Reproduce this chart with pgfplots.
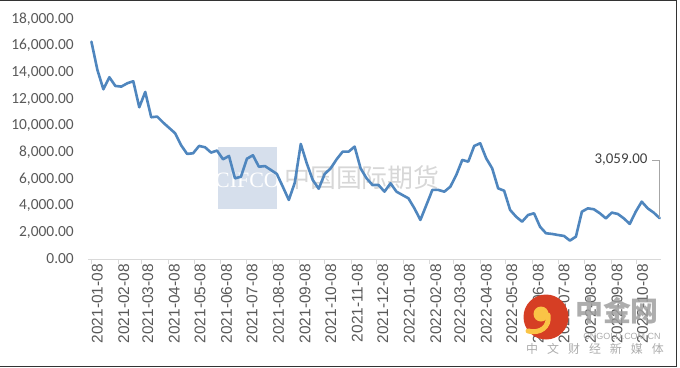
\documentclass[border=0pt]{standalone}
\usepackage{pgfplots}
\pgfplotsset{compat=1.18}
\usepackage{fontspec}
\setmainfont{Carlito}
\newfontfamily\arialf{Liberation Sans}
\newfontfamily\cjk{Noto Sans CJK SC}
\newfontfamily\serifw{Liberation Serif}
\definecolor{lineblue}{RGB}{79,134,190}
\definecolor{labgray}{RGB}{89,89,89}
\definecolor{axgray}{RGB}{217,217,217}
\definecolor{wmblue}{RGB}{214,223,236}
\definecolor{wmgray}{RGB}{215,215,215}
\definecolor{logored}{RGB}{214,62,36}
\definecolor{logoyel}{RGB}{250,196,70}

\pgfplotstableread{
day value
0 16300
7 14180
14 12730
21 13630
28 12980
35 12930
42 13180
49 13330
56 11380
63 12530
70 10630
77 10680
84 10230
91 9830
98 9430
105 8530
112 7880
119 7930
126 8480
133 8380
140 7980
147 8130
154 7480
161 7730
168 6050
175 6170
182 7520
189 7780
196 6920
203 6970
210 6680
217 6380
224 5420
231 4430
238 5720
245 8630
252 7180
259 5930
266 5270
273 6380
280 6800
287 7480
294 8050
301 8050
308 8430
315 6800
322 6050
329 5550
336 5550
343 5050
350 5680
357 5050
364 4800
371 4550
378 3800
385 2930
392 4050
399 5180
406 5180
413 5050
420 5420
427 6300
434 7430
441 7300
448 8480
455 8680
462 7550
469 6800
476 5300
483 5120
490 3680
497 3170
504 2800
511 3300
518 3430
525 2420
532 1930
539 1880
546 1800
553 1730
560 1380
567 1680
574 3550
581 3800
588 3730
595 3430
602 3050
609 3480
616 3380
623 3050
630 2630
637 3550
644 4300
651 3800
658 3480
665 3059
}\pricedata

\begin{document}
\begin{tikzpicture}[x=1bp,y=1bp]
\useasboundingbox (0,0) rectangle (680,367);
% watermark (behind the chart)
\fill[wmblue] (218,158) rectangle (277,220);
\node[text=white, font=\serifw\fontsize{22}{22}\selectfont] at (247.5,187) {CIFCO};
\node[text=wmgray, font=\cjk\fontsize{26}{26}\selectfont, anchor=west, inner sep=0pt] at (284,189) {中国国际期货};

\begin{axis}[
  at={(88bp,108bp)}, anchor=south west,
  scale only axis, width=572.5bp, height=240bp,
  xmin=-4, xmax=666, ymin=0, ymax=18000,
  axis x line*=bottom, axis y line*=left,
  y axis line style={draw=none},
  x axis line style={draw=axgray, line width=0.8bp},
  tick align=outside, major tick length=5bp,
  xtick style={draw=axgray, line width=0.8bp},
  ytick style={draw=none},
  xtick={0,31,59,90,120,151,181,212,243,273,304,334,365,396,424,455,485,516,546,577,608,638},
  xticklabels={2021-01-08,2021-02-08,2021-03-08,2021-04-08,2021-05-08,2021-06-08,2021-07-08,2021-08-08,2021-09-08,2021-10-08,2021-11-08,2021-12-08,2022-01-08,2022-02-08,2022-03-08,2022-04-08,2022-05-08,2022-06-08,2022-07-08,2022-08-08,2022-09-08,2022-10-08},
  xticklabel style={rotate=90, anchor=east, font=\arialf\fontsize{15.5}{15.5}\selectfont, text=labgray, inner sep=0pt, xshift=0bp, yshift=-6bp},
  ytick={0,2000,...,18000},
  scaled y ticks=false,
  yticklabel style={font=\fontsize{15.5}{15.5}\selectfont, text=labgray, inner sep=0pt, xshift=-9bp,
    /pgf/number format/fixed, /pgf/number format/fixed zerofill,
    /pgf/number format/precision=2, /pgf/number format/1000 sep={,},
    /pgf/number format/assume math mode=true},
  clip=false,
]
\addplot[color=lineblue, line width=2.6bp, line join=round, line cap=round, mark=none] table[x=day, y=value] {\pricedata};
\draw[color=black!35, line width=0.8bp] (axis cs:665,3059) -- (axis cs:665,7430) -- (axis cs:655.5,7430);
\node[anchor=east, inner sep=0pt, text=black!75, font=\fontsize{15}{15}\selectfont] at (axis cs:651,7430) {3,059.00};
\end{axis}

% logo
\fill[logored] (546,50) circle (22.5);
\fill[logoyel] (541,53) circle (7.5);
\draw[logoyel, line width=5bp, line cap=round] (548,52) .. controls (550,40) and (540,33) .. (528,36);
\node[text=gray!75, opacity=0.85, font=\cjk\bfseries\fontsize{28}{28}\selectfont] at (617,56) {中金网};
\node[text=gray!65, font=\arialf\fontsize{9}{9}\selectfont] at (622,31) {CNGOLD.COM.CN};
\node[text=gray!65, font=\cjk\fontsize{12}{12}\selectfont] at (595,18) {中\hspace{9bp}文\hspace{9bp}财\hspace{9bp}经\hspace{9bp}新\hspace{9bp}媒\hspace{9bp}体};

% outer frame
\draw[line width=1.5bp, color=black!80] (0,366.3) -- (676.5,366.3) -- (676.5,0.7) -- (0,0.7);
\end{tikzpicture}
\end{document}
